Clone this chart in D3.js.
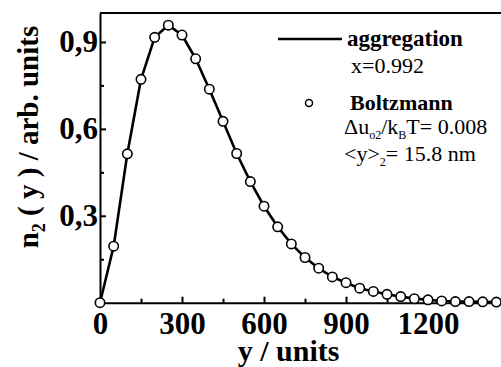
<!DOCTYPE html>
<html>
<head>
<meta charset="utf-8">
<script src="https://cdn.jsdelivr.net/npm/d3@7"></script>
<style>
    body { margin: 0; background: #fff; }
    svg { display: block; font-family: "Liberation Serif", "Times New Roman", serif; }
    .axis path, .axis line { stroke: #000; stroke-width: 2; }
    .axis text { font-size: 31px; font-weight: bold; fill: #000; font-family: "Liberation Serif", serif; }
</style>
</head>
<body>
<div id="content"></div>
<script>
// y positions (units), one point every 50
var yPos = [0, 50, 100, 150, 200, 250, 300, 350, 400, 450, 500, 550, 600, 650, 700,
    750, 800, 850, 900, 950, 1000, 1050, 1100, 1150, 1200, 1250, 1300, 1350, 1400, 1450];

// aggregation model (line)
var aggregation = [0, 0.195, 0.514, 0.771, 0.916, 0.958, 0.924, 0.842, 0.737, 0.626, 0.515,
    0.418, 0.333, 0.262, 0.203, 0.156, 0.119, 0.089, 0.069, 0.050, 0.039, 0.029, 0.021,
    0.014, 0.010, 0.006, 0.004, 0.004, 0.003, 0.002];

// Boltzmann (open circles)
var boltzmann = [0, 0.195, 0.514, 0.771, 0.916, 0.958, 0.924, 0.842, 0.737, 0.626, 0.515,
    0.418, 0.333, 0.262, 0.203, 0.156, 0.119, 0.089, 0.069, 0.050, 0.039, 0.029, 0.021,
    0.014, 0.010, 0.006, 0.004, 0.004, 0.003, 0.002];

var xTicks = [0, 300, 600, 900, 1200];
var xMinor = [150, 450, 750, 1050, 1350];
var yTicks = [0.3, 0.6, 0.9];
var yMinor = [0.15, 0.45, 0.75];

function render() {
    var margin = {top: 13, right: 0, bottom: 65, left: 100},
        width = 501 - margin.left - margin.right,
        height = 367 - margin.top - margin.bottom;

    var svg = d3.select("div#content").append("svg")
        .attr("width", 501)
        .attr("height", 367)
        .append("g")
        .attr("transform", "translate(" + margin.left + "," + margin.top + ")");

    var x = d3.scaleLinear().domain([0, 1467]).range([0, width]);
    var y = d3.scaleLinear().domain([0, 1.0]).range([height + 0.7, 0]);

    // top frame line
    svg.append("line")
        .attr("x1", 0).attr("x2", width + 2)
        .attr("y1", y(1)).attr("y2", y(1))
        .attr("stroke", "#000").attr("stroke-width", 2);

    // x axis
    svg.append("g")
        .attr("class", "axis")
        .attr("transform", "translate(0," + y(0) + ")")
        .call(d3.axisBottom(x).tickValues(xTicks).tickSizeInner(-6).tickSizeOuter(0).tickPadding(9)
            .tickFormat(d3.format("d")));

    svg.append("g")
        .attr("class", "axis")
        .attr("transform", "translate(0," + y(0) + ")")
        .call(d3.axisBottom(x).tickValues(xMinor).tickSizeInner(-4).tickSizeOuter(0).tickFormat(""))
        .select(".domain").remove();

    // y axis
    svg.append("g")
        .attr("class", "axis")
        .call(d3.axisLeft(y).tickValues(yTicks).tickSizeInner(-6).tickSizeOuter(0).tickPadding(2)
            .tickFormat(function(d) { return d.toFixed(1).replace(".", ","); }));

    svg.append("g")
        .attr("class", "axis")
        .call(d3.axisLeft(y).tickValues(yMinor).tickSizeInner(-4).tickSizeOuter(0).tickFormat(""))
        .select(".domain").remove();

    // axis titles
    svg.append("text")
        .attr("x", x(690))
        .attr("y", 361 - margin.top)
        .attr("text-anchor", "middle")
        .style("font-size", "30px")
        .style("font-weight", "bold")
        .text("y / units");

    var yl = svg.append("text")
        .attr("transform", "translate(" + (38 - margin.left) + "," + (137 - margin.top) + ") rotate(-90)")
        .attr("text-anchor", "middle")
        .style("font-size", "29px")
        .style("font-weight", "bold");
    yl.append("tspan").text("n");
    yl.append("tspan").attr("dy", 7).style("font-size", "18px").text("2");
    yl.append("tspan").attr("dy", -7).text(" ( y ) / arb. units");

    var data = yPos.map(function(d, i) {
        return {x: d, agg: aggregation[i], bol: boltzmann[i]};
    });

    var line = d3.line()
        .x(function(d) { return x(d.x); })
        .y(function(d) { return y(d.agg); });

    svg.append("path")
        .datum(data)
        .attr("fill", "none")
        .attr("stroke", "#000")
        .attr("stroke-width", 2.6)
        .attr("stroke-linejoin", "round")
        .attr("d", line);

    svg.selectAll(".dot")
        .data(data)
        .enter().append("circle")
        .attr("class", "dot")
        .attr("cx", function(d) { return x(d.x); })
        .attr("cy", function(d) { return y(d.bol); })
        .attr("r", 4.7)
        .attr("fill", "#fff")
        .attr("stroke", "#000")
        .attr("stroke-width", 1.6);

    // legend (page coordinates)
    var leg = d3.select("svg").append("g").attr("fill", "#000");

    leg.append("line")
        .attr("x1", 278).attr("x2", 342)
        .attr("y1", 39).attr("y2", 39)
        .attr("stroke", "#000").attr("stroke-width", 2.5);
    leg.append("text")
        .attr("x", 347).attr("y", 46)
        .style("font-size", "23px").style("font-weight", "bold")
        .text("aggregation");
    leg.append("text")
        .attr("x", 351).attr("y", 73)
        .style("font-size", "22px")
        .text("x=0.992");

    leg.append("circle")
        .attr("cx", 309).attr("cy", 103)
        .attr("r", 3.5)
        .attr("fill", "#fff").attr("stroke", "#000").attr("stroke-width", 1.5);
    leg.append("text")
        .attr("x", 350).attr("y", 110)
        .style("font-size", "22px").style("font-weight", "bold")
        .text("Boltzmann");

    var t1 = leg.append("text")
        .attr("x", 344).attr("y", 134)
        .style("font-size", "22px");
    t1.append("tspan").text("\u0394u");
    t1.append("tspan").attr("dy", 5).style("font-size", "12px").text("o2");
    t1.append("tspan").attr("dy", -5).text("/k");
    t1.append("tspan").attr("dy", 5).style("font-size", "12px").text("B");
    t1.append("tspan").attr("dy", -5).text("T= 0.008");

    var t2 = leg.append("text")
        .attr("x", 344).attr("y", 161)
        .style("font-size", "22px");
    t2.append("tspan").text("<y>");
    t2.append("tspan").attr("dy", 5).style("font-size", "12px").text("2");
    t2.append("tspan").attr("dy", -5).text("= 15.8 nm");
}

render();
</script>
</body>
</html>
